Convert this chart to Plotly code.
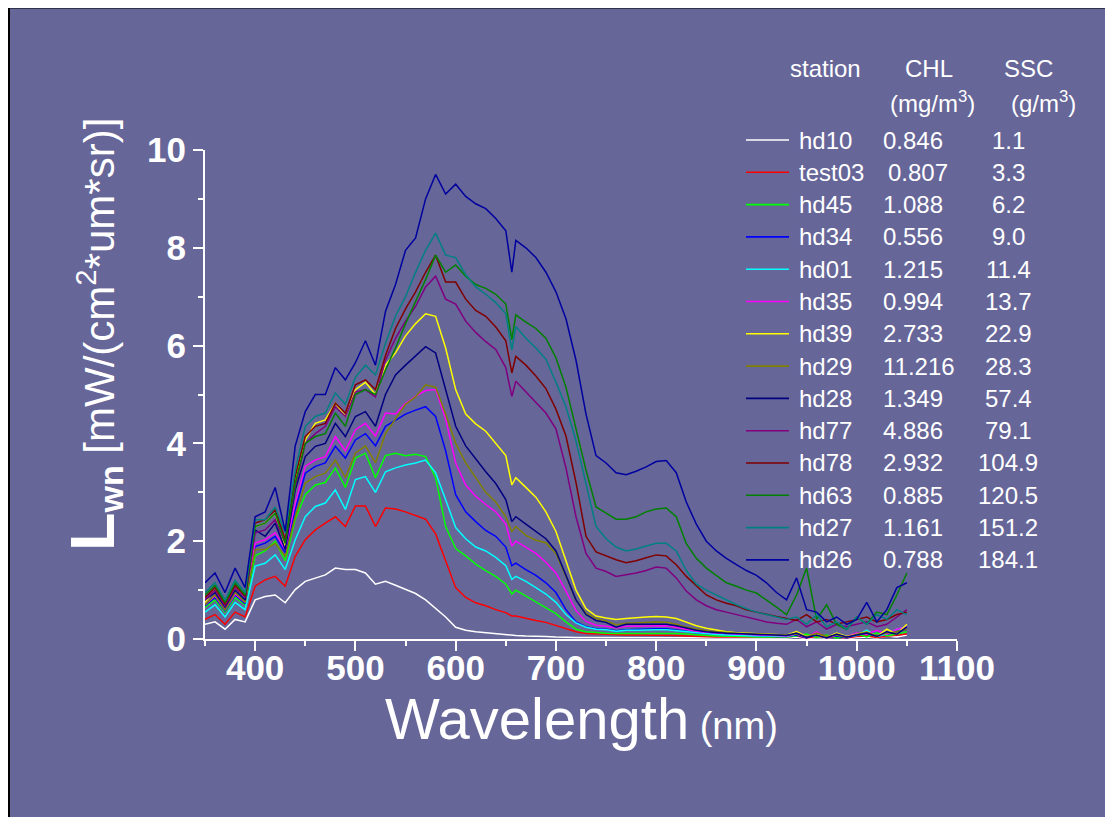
import plotly.graph_objects as go

# ---------------- data ----------------
WL = [350, 360, 370, 380, 390,
      400, 410, 420, 430, 440, 450, 460, 470, 480, 490, 500, 510, 520, 530, 540,
      550, 560, 570, 580, 590, 600, 610, 620, 630, 640, 650,
      656,
      660, 670, 680, 690, 700, 710, 720, 730, 740, 750, 760, 770, 780, 790, 800,
      810, 820, 830, 840, 850, 860, 870, 880, 890, 900, 910, 920,
      930, 940, 950, 960, 970, 980, 990, 1000, 1010, 1020, 1030, 1040, 1050]

STATIONS = ["hd10", "test03", "hd45", "hd34", "hd01", "hd35", "hd39",
            "hd29", "hd28", "hd77", "hd78", "hd63", "hd27", "hd26"]
CHL = ["0.846", "0.807", "1.088", "0.556", "1.215", "0.994", "2.733",
       "11.216", "1.349", "4.886", "2.932", "0.885", "1.161", "0.788"]
SSC = ["1.1", "3.3", "6.2", "9.0", "11.4", "13.7", "22.9",
       "28.3", "57.4", "79.1", "104.9", "120.5", "151.2", "184.1"]
COLORS = ["#FFFFFF", "#FF0000", "#00FF00", "#0000FF", "#00FFFF", "#FF00FF", "#FFFF00",
          "#808000", "#000080", "#800080", "#800000", "#008000", "#008080", "#0000A0"]

hd10 = [0.3, 0.35, 0.2, 0.4, 0.35,
        0.8, 0.87, 0.9, 0.74, 1.01, 1.18, 1.25, 1.31, 1.45, 1.42, 1.42, 1.35, 1.12, 1.18, 1.1,
        1.02, 0.93, 0.8, 0.63, 0.45, 0.24, 0.18, 0.15, 0.13, 0.1, 0.08,
        0.08,
        0.07, 0.06, 0.06, 0.05, 0.04, 0.03, 0.03, 0.03, 0.03, 0.02, 0.02, 0.02, 0.02, 0.02, 0.02,
        0.02, 0.02, 0.02, 0.02, 0.02, 0.02, 0.02, 0.02, 0.02, 0.02, 0.02, 0.02,
        0.02, 0.04, 0.01, 0.03, 0.02, 0.05, 0.01, 0.03, 0.04, 0.02, 0.06, 0.04, 0.08]
test03 = [0.4, 0.5, 0.3, 0.55, 0.45,
          1.08, 1.21, 1.28, 1.08, 1.69, 2.03, 2.23, 2.37, 2.5, 2.3, 2.72, 2.72, 2.3, 2.68, 2.66,
          2.6, 2.53, 2.45, 2.15, 1.6, 1.05, 0.85, 0.74, 0.68, 0.6, 0.54,
          0.47,
          0.47, 0.42, 0.38, 0.34, 0.28, 0.21, 0.15, 0.11, 0.1, 0.09, 0.08, 0.08, 0.08, 0.08, 0.08,
          0.08, 0.07, 0.06, 0.05, 0.05, 0.04, 0.04, 0.04, 0.03, 0.03, 0.03, 0.03,
          0.04, 0.06, 0.02, 0.05, 0.03, 0.04, 0.02, 0.05, 0.06, 0.03, 0.05, 0.08, 0.1]
hd45 = [0.65, 0.8, 0.55, 0.85, 0.7,
        1.7, 1.8, 2.0, 1.6, 2.45, 2.95, 3.15, 3.2, 3.5, 3.1, 3.7, 3.8, 3.3, 3.75, 3.8,
        3.75, 3.78, 3.73, 3.3, 2.3, 1.85, 1.7, 1.53, 1.4, 1.28, 1.12,
        0.92,
        1.0, 0.88, 0.76, 0.65, 0.52, 0.35, 0.2, 0.15, 0.13, 0.12, 0.11, 0.11, 0.12, 0.12, 0.12,
        0.12, 0.11, 0.1, 0.08, 0.07, 0.06, 0.06, 0.05, 0.05, 0.04, 0.04, 0.04,
        0.04, 0.06, 0.1, 0.03, 0.08, 0.02, 0.05, 0.1, 0.04, 0.12, 0.06, 0.1, 0.15]
hd34 = [0.68, 0.85, 0.58, 0.9, 0.72,
        1.89, 1.96, 2.1, 1.76, 2.64, 3.39, 3.53, 3.6, 3.94, 3.7, 4.07, 4.2, 3.95, 4.35, 4.48,
        4.6, 4.68, 4.75, 4.55, 3.85, 2.95, 2.6, 2.4, 2.22, 2.1, 1.88,
        1.5,
        1.55, 1.42, 1.3, 1.15, 0.95, 0.6, 0.35, 0.25, 0.21, 0.2, 0.17, 0.19, 0.2, 0.2, 0.21,
        0.21, 0.19, 0.16, 0.13, 0.11, 0.1, 0.09, 0.08, 0.07, 0.07, 0.06, 0.05,
        0.05, 0.08, 0.02, 0.1, 0.04, 0.06, 0.02, 0.08, 0.12, 0.05, 0.1, 0.15, 0.2]
hd01 = [0.55, 0.7, 0.45, 0.75, 0.6,
        1.49, 1.55, 1.72, 1.42, 2.03, 2.5, 2.71, 2.78, 3.05, 2.65, 3.26, 3.32, 3.0, 3.42, 3.5,
        3.56, 3.6, 3.66, 3.4, 2.85, 2.28, 2.05, 1.88, 1.8, 1.67, 1.5,
        1.22,
        1.28, 1.18, 1.05, 0.92, 0.75, 0.5, 0.33, 0.24, 0.2, 0.19, 0.16, 0.18, 0.18, 0.19, 0.19,
        0.19, 0.17, 0.14, 0.12, 0.1, 0.09, 0.08, 0.07, 0.07, 0.06, 0.06, 0.05,
        0.05, 0.1, 0.04, 0.08, 0.03, 0.1, 0.05, 0.07, 0.18, 0.05, 0.1, 0.2, 0.25]
hd35 = [0.7, 0.88, 0.6, 0.92, 0.75,
        1.96, 2.03, 2.17, 1.83, 2.78, 3.53, 3.66, 3.73, 4.14, 3.85, 4.28, 4.41, 4.15, 4.62, 4.6,
        4.82, 4.96, 5.08, 5.1, 4.5, 3.6, 3.15, 2.92, 2.75, 2.6, 2.35,
        1.9,
        2.0, 1.88, 1.75, 1.57, 1.35, 0.98, 0.58, 0.36, 0.28, 0.26, 0.23, 0.26, 0.26, 0.26, 0.27,
        0.27, 0.24, 0.2, 0.16, 0.14, 0.12, 0.11, 0.1, 0.09, 0.08, 0.07, 0.06,
        0.06, 0.1, 0.03, 0.15, 0.02, 0.08, 0.05, 0.12, 0.1, 0.18, 0.1, 0.2, 0.25]
hd39 = [0.75, 1.0, 0.7, 1.05, 0.85,
        2.3, 2.37, 2.57, 1.89, 3.26, 4.07, 4.41, 4.48, 4.82, 4.55, 5.1, 5.25, 5.0, 5.6, 5.85,
        6.2, 6.45, 6.65, 6.6, 5.95, 5.1, 4.6, 4.4, 4.25, 4.0, 3.75,
        3.15,
        3.3, 3.1, 2.9, 2.6, 2.2, 1.6, 1.0, 0.62, 0.47, 0.43, 0.4, 0.42, 0.44, 0.45, 0.46,
        0.45, 0.42, 0.35, 0.27, 0.22, 0.18, 0.15, 0.13, 0.12, 0.11, 0.1, 0.09,
        0.08, 0.15, 0.05, 0.1, 0.03, 0.12, 0.05, 0.1, 0.15, 0.05, 0.2, 0.1, 0.3]
hd29 = [0.7, 0.9, 0.6, 0.95, 0.75,
        1.83, 1.83, 1.96, 1.69, 2.5, 3.19, 3.32, 3.39, 3.66, 3.3, 3.8, 3.95, 3.6, 4.2, 4.5,
        4.8, 4.95, 5.2, 5.15, 4.6, 4.0, 3.6, 3.3, 3.0, 2.8, 2.5,
        2.2,
        2.3, 2.12, 2.02, 1.97, 1.75, 1.28, 0.8, 0.53, 0.42, 0.37, 0.29, 0.32, 0.33, 0.34, 0.35,
        0.34, 0.3, 0.24, 0.2, 0.17, 0.15, 0.13, 0.12, 0.11, 0.1, 0.09, 0.08,
        0.08, 0.1, 0.04, 0.12, 0.05, 0.08, 0.03, 0.1, 0.14, 0.06, 0.12, 0.15, 0.2]
hd28 = [0.8, 0.95, 0.65, 1.0, 0.8,
        2.23, 2.1, 2.37, 1.83, 3.05, 3.73, 3.94, 4.0, 4.41, 4.14, 4.55, 4.65, 4.35, 5.0, 5.4,
        5.6, 5.78, 5.98, 5.85, 5.1, 4.35, 3.95, 3.68, 3.42, 3.18, 2.85,
        2.4,
        2.5, 2.35, 2.2, 2.05, 1.8, 1.3, 0.8, 0.5, 0.38, 0.34, 0.24, 0.3, 0.3, 0.31, 0.31,
        0.3, 0.27, 0.22, 0.18, 0.15, 0.13, 0.12, 0.11, 0.1, 0.09, 0.08, 0.07,
        0.07, 0.12, 0.03, 0.08, 0.02, 0.1, 0.04, 0.08, 0.12, 0.05, 0.15, 0.1, 0.25]
hd77 = [0.8, 1.0, 0.68, 1.05, 0.85,
        2.17, 2.23, 2.44, 1.96, 3.12, 4.0, 4.2, 4.35, 4.75, 4.55, 5.05, 5.1, 4.95, 5.7, 6.15,
        6.5, 6.8, 7.2, 7.42, 6.95, 6.85, 6.5, 6.27, 6.08, 5.92, 5.55,
        4.96,
        5.27, 5.05, 4.85, 4.62, 4.3, 3.5, 2.5, 1.75, 1.45, 1.38, 1.28, 1.31, 1.35, 1.4, 1.47,
        1.45, 1.25, 0.98, 0.8, 0.68, 0.6, 0.55, 0.5, 0.44, 0.4, 0.35, 0.32,
        0.3, 0.4, 0.25, 0.35, 0.2, 0.3, 0.25, 0.3, 0.35, 0.25, 0.3, 0.45, 0.6]
hd78 = [0.85, 1.05, 0.72, 1.1, 0.88,
        2.37, 2.44, 2.64, 2.03, 3.32, 4.14, 4.35, 4.41, 4.82, 4.62, 5.2, 5.3, 5.1, 5.8, 6.35,
        6.75, 7.1, 7.5, 7.85, 7.3, 7.3, 6.95, 6.72, 6.6, 6.38, 6.1,
        5.44,
        5.78, 5.6, 5.38, 5.12, 4.7, 4.15, 3.2, 2.1, 1.78, 1.7, 1.62, 1.56, 1.6, 1.66, 1.72,
        1.7, 1.52, 1.28, 1.08, 0.9, 0.8, 0.73, 0.68, 0.6, 0.55, 0.5, 0.46,
        0.42, 0.38, 0.5, 0.35, 0.4, 0.3, 0.35, 0.4, 0.45, 0.35, 0.4, 0.5, 0.55]
hd63 = [0.9, 1.1, 0.75, 1.15, 0.9,
        2.3, 2.37, 2.57, 1.96, 3.19, 4.0, 4.14, 4.2, 4.62, 4.35, 5.0, 5.1, 5.0, 5.5, 5.95,
        6.45, 6.9, 7.35, 7.85, 7.5, 7.65, 7.42, 7.25, 7.17, 7.05, 6.85,
        6.12,
        6.63, 6.48, 6.35, 6.15, 5.75, 5.15, 4.3, 3.45, 2.7, 2.58, 2.45, 2.45, 2.5, 2.6, 2.66,
        2.68, 2.5, 1.95, 1.65, 1.45, 1.3, 1.15, 1.08, 1.0, 0.94, 0.8, 0.65,
        0.5, 0.9, 1.45, 0.4, 0.7, 0.3, 0.2, 0.45, 0.3, 0.55, 0.5, 0.9, 1.35]
hd27 = [0.95, 1.15, 0.8, 1.2, 0.95,
        2.44, 2.44, 2.7, 2.17, 3.46, 4.35, 4.55, 4.62, 5.03, 4.8, 5.35, 5.6, 5.4, 6.05, 6.6,
        7.0, 7.5, 7.95, 8.3, 7.85, 7.8, 7.45, 7.2, 7.05, 6.88, 6.65,
        5.91,
        6.39, 6.15, 5.95, 5.72, 5.25, 4.75, 4.05, 3.2, 2.3, 2.05, 1.88, 1.8, 1.84, 1.9, 1.96,
        1.96, 1.8, 1.4, 1.12, 1.0, 0.9, 0.8, 0.7, 0.62, 0.55, 0.5, 0.45,
        0.4, 0.45, 0.3, 0.5, 0.25, 0.35, 0.2, 0.45, 0.3, 0.5, 0.4, 0.6, 0.5]
hd26 = [1.15, 1.35, 0.95, 1.45, 1.05,
        2.5, 2.6, 3.1, 2.2, 3.95, 4.65, 5.0, 5.0, 5.55, 5.3, 5.65, 6.1, 5.6, 6.7, 7.25,
        7.95, 8.2, 9.0, 9.5, 9.1, 9.3, 9.05, 8.9, 8.8, 8.6, 8.35,
        7.5,
        8.15, 8.0, 7.8, 7.5, 7.1, 6.55, 5.7, 4.6, 3.75, 3.6, 3.4, 3.36, 3.43, 3.52, 3.63,
        3.65, 3.4, 2.8, 2.35, 2.0, 1.8, 1.65, 1.52, 1.4, 1.3, 1.15, 0.95,
        0.8, 1.25, 0.6, 0.55, 0.35, 0.45, 0.3, 0.4, 0.75, 0.35, 0.6, 1.05, 1.15]

SERIES = [hd10, test03, hd45, hd34, hd01, hd35, hd39, hd29, hd28, hd77, hd78, hd63, hd27, hd26]

# ---------------- layout constants ----------------
W, H = 1113, 817
OFF = 8                      # page body margin of the browser
ML, MR, MT, MB = 197, 164, 142, 186
PW = W - ML - MR
PH = H - MT - MB
BG = "#666699"
FONT = "Liberation Sans, Arial, Helvetica, sans-serif"


def px(sx):
    return (sx - OFF - ML) / PW


def py(sy):
    return (H - MB - (sy - OFF)) / PH


fig = go.Figure()
for name, vals, col in zip(STATIONS, SERIES, COLORS):
    fig.add_trace(go.Scatter(x=WL, y=vals, mode="lines", name=name,
                             line=dict(color=col, width=1.5), showlegend=False))

axis_common = dict(showline=True, linecolor="white", linewidth=2, showgrid=False,
                   zeroline=False, ticks="outside", ticklen=10, tickwidth=2,
                   tickcolor="white",
                   tickfont=dict(family=FONT, size=35, color="white", weight="bold"))

fig.update_xaxes(range=[350, 1100], tick0=0, dtick=100, ticklabelstandoff=-13,
                 minor=dict(ticks="outside", ticklen=5, tickwidth=2, tickcolor="white",
                            tick0=0, dtick=50, showgrid=False),
                 **axis_common)
fig.update_yaxes(range=[0, 10], tick0=0, dtick=2,
                 minor=dict(ticks="outside", ticklen=5, tickwidth=2, tickcolor="white",
                            tick0=0, dtick=1, showgrid=False),
                 **axis_common)

annotations = []
shapes = []

# frame border (left and top edges only are visible in the reference)
shapes.append(dict(type="line", xref="paper", yref="paper",
                   x0=px(9), x1=px(9), y0=py(830), y1=py(7.5),
                   line=dict(color="black", width=2), layer="below"))
shapes.append(dict(type="line", xref="paper", yref="paper",
                   x0=px(8), x1=px(1125), y0=py(7.5), y1=py(7.5),
                   line=dict(color="black", width=2), layer="below"))

# axis titles
annotations.append(dict(xref="paper", yref="paper", x=px(581), y=py(718),
                        xanchor="center", yanchor="middle", showarrow=False,
                        text="Wavelength<span style='font-size:38px'> (nm)</span>",
                        font=dict(family=FONT, size=58, color="white")))
annotations.append(dict(xref="paper", yref="paper", x=px(93), y=py(335),
                        xanchor="center", yanchor="middle", showarrow=False,
                        textangle=-90,
                        text="<b><span style='font-size:63px'>L</span>"
                             "<sub><span style='font-size:34px'>wn</span></sub></b>"
                             " [mW/(cm<sup>2</sup>*um*sr)]",
                        font=dict(family=FONT, size=42, color="white")))

# legend table header
LF = dict(family=FONT, size=24, color="white")
for txt, sx, sy in [("station", 825, 68), ("CHL", 929, 68), ("SSC", 1028, 68),
                    ("(mg/m<sup>3</sup>)", 932, 102), ("(g/m<sup>3</sup>)", 1043, 102)]:
    annotations.append(dict(xref="paper", yref="paper", x=px(sx), y=py(sy),
                            xanchor="center", yanchor="middle", showarrow=False,
                            text=txt, font=LF))

ROW0, ROWSTEP = 140, 32.3
for i, (name, chl, ssc, col) in enumerate(zip(STATIONS, CHL, SSC, COLORS)):
    sy = ROW0 + ROWSTEP * i
    shapes.append(dict(type="line", xref="paper", yref="paper",
                       x0=px(746), x1=px(789), y0=py(sy), y1=py(sy),
                       line=dict(color=col, width=1.6)))
    annotations.append(dict(xref="paper", yref="paper", x=px(797), y=py(sy),
                            xanchor="left", yanchor="middle", showarrow=False,
                            text=name, font=LF))
    annotations.append(dict(xref="paper", yref="paper",
                            x=px(886 if name == "test03" else 881), y=py(sy),
                            xanchor="left", yanchor="middle", showarrow=False,
                            text=chl, font=LF))
    annotations.append(dict(xref="paper", yref="paper", x=px(1008), y=py(sy),
                            xanchor="center", yanchor="middle", showarrow=False,
                            text=ssc, font=LF))

fig.update_layout(width=W, height=H,
                  margin=dict(l=ML, r=MR, t=MT, b=MB, pad=0),
                  paper_bgcolor=BG, plot_bgcolor=BG,
                  font=dict(family=FONT, color="white"),
                  annotations=annotations, shapes=shapes,
                  showlegend=False)

fig.write_html("out.html",
               post_script="document.documentElement.style.overflow='hidden';"
                           "document.body.style.overflow='hidden';")
